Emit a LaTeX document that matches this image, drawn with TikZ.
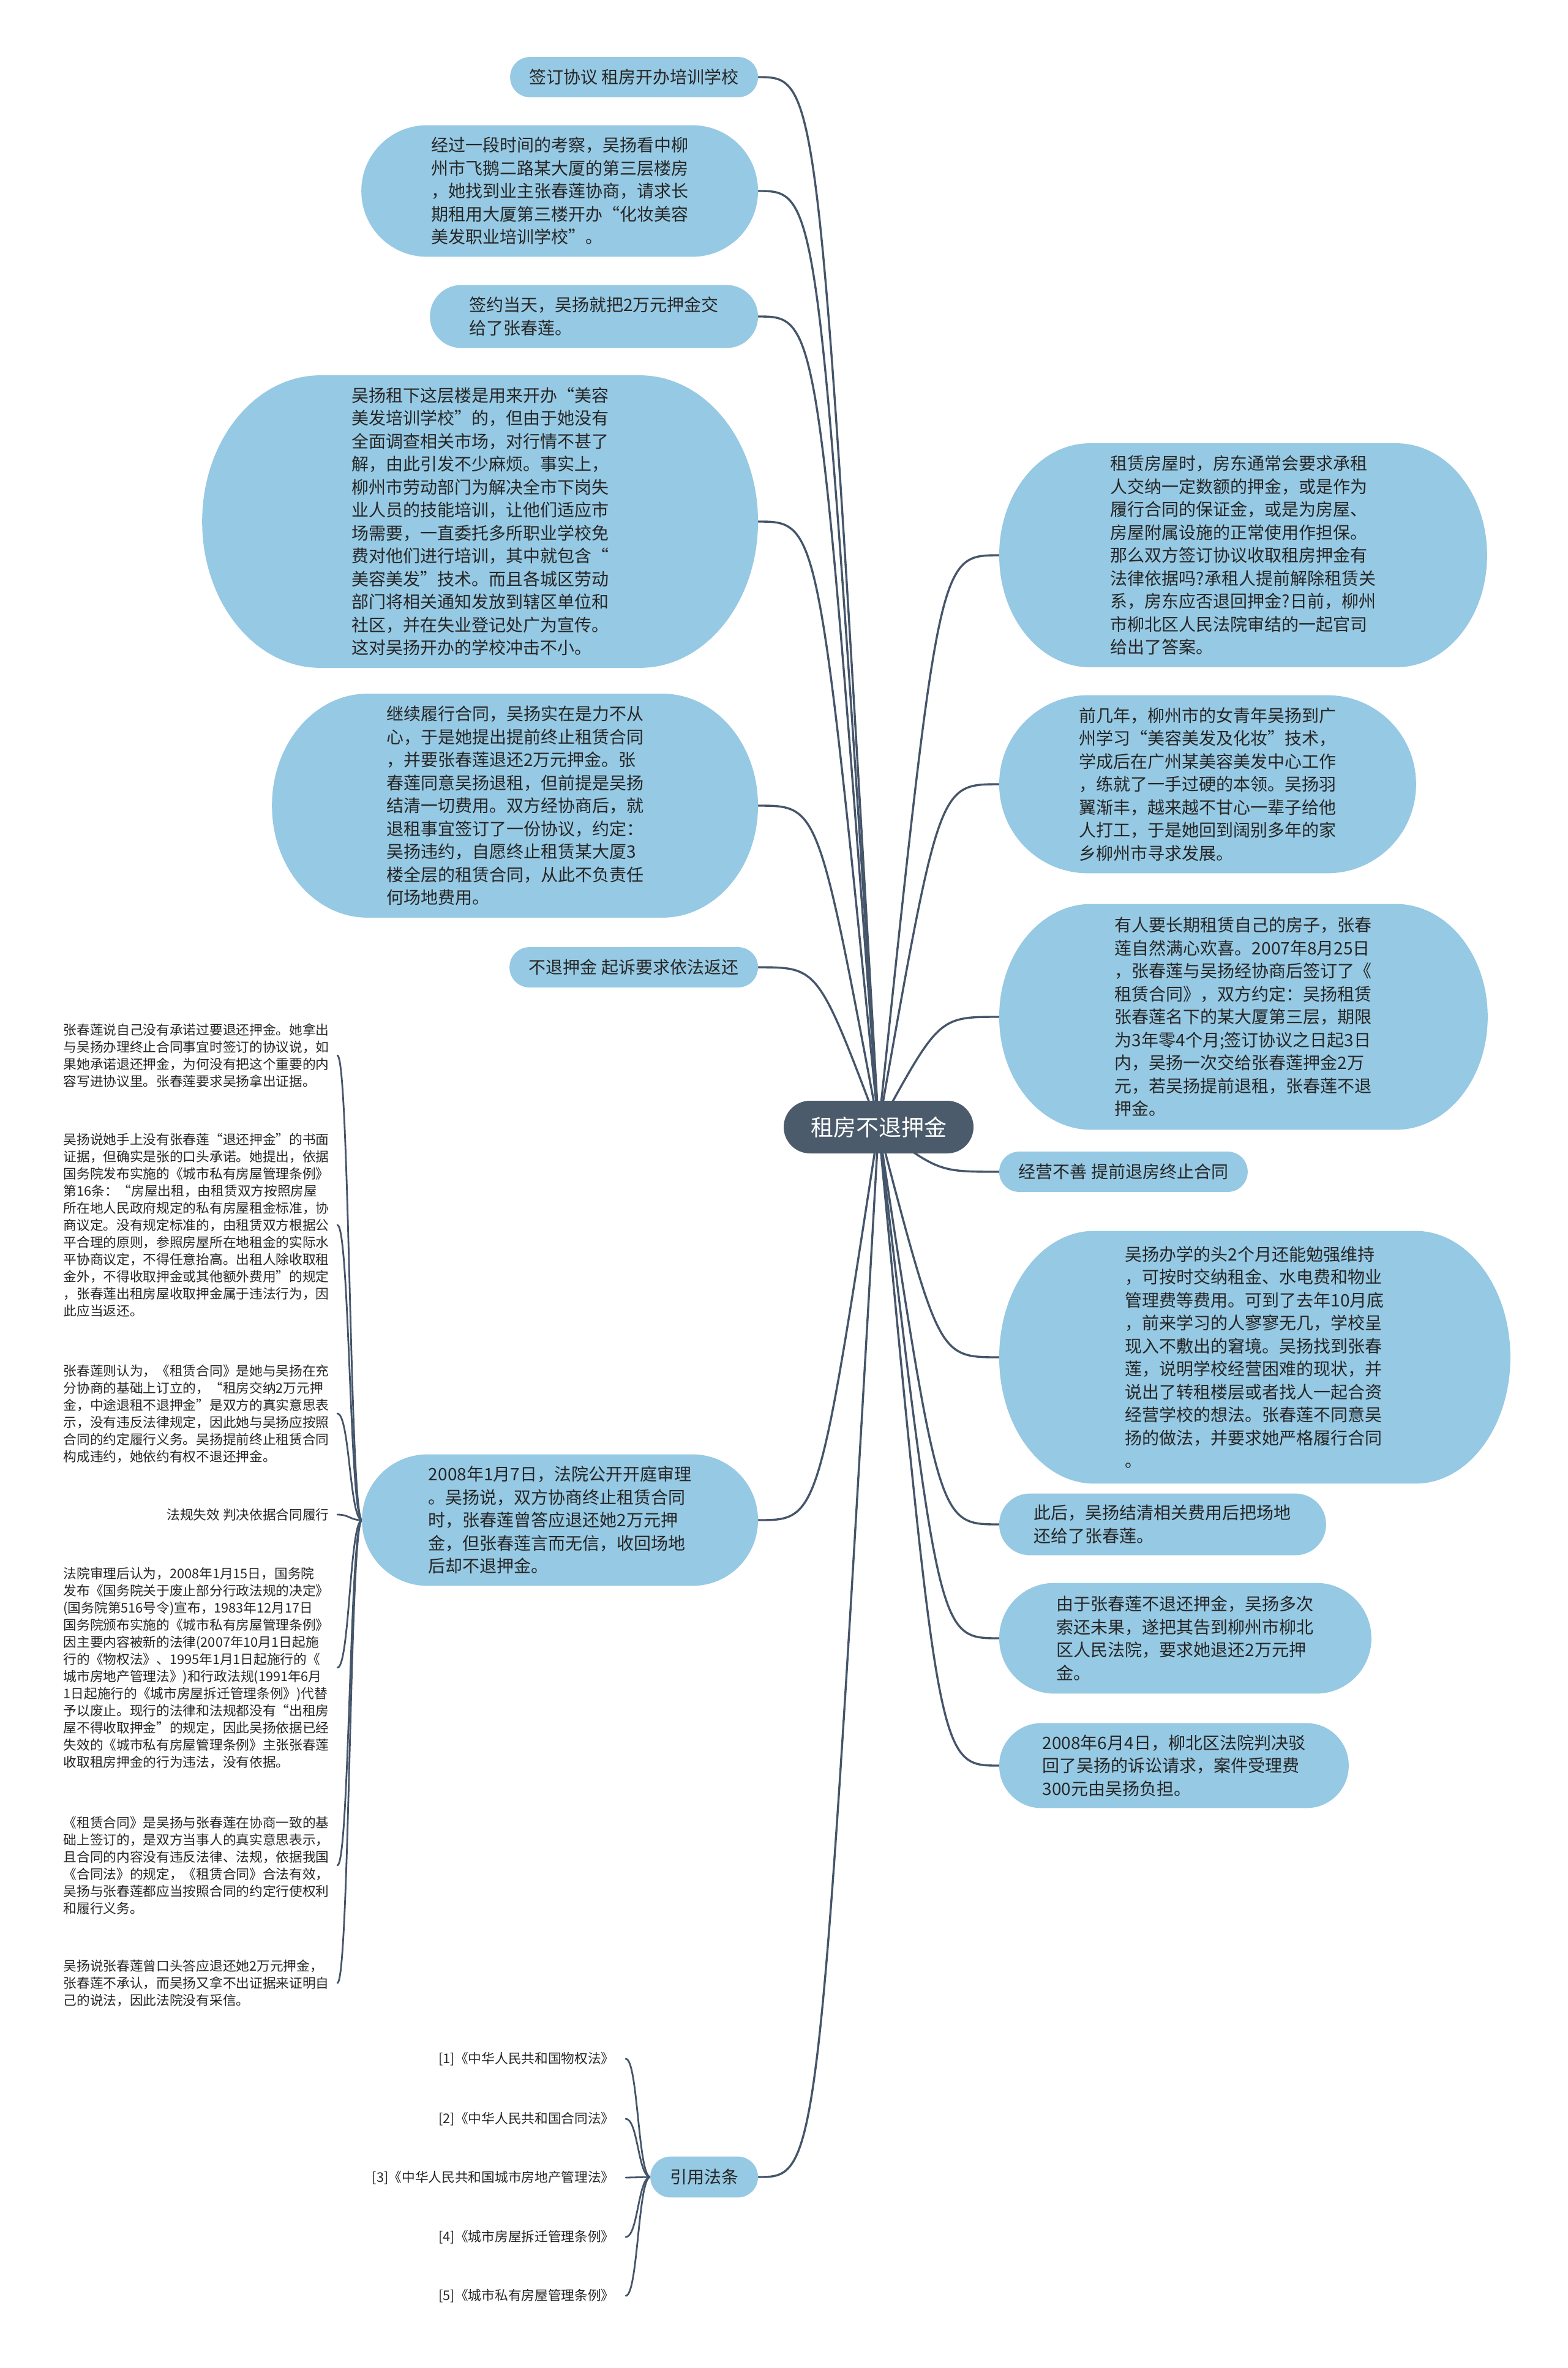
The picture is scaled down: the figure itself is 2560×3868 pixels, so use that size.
\documentclass[tikz,border=0pt]{standalone}
\usepackage{fontspec}
\newfontfamily\cjk{Noto Sans CJK SC}
\usetikzlibrary{calc}
\definecolor{blobc}{HTML}{96C9E3}
\definecolor{ctrc}{HTML}{4B5B6B}
\definecolor{linec}{HTML}{45556A}
\definecolor{txtc}{HTML}{262626}
\pgfdeclarelayer{bglayer}
\pgfdeclarelayer{bloblayer}
\pgfsetlayers{bglayer,bloblayer,main}
\newcommand\blob[3]{%
  \fill[blobc] ($(#1.north west)+(#2,0pt)$) -- ($(#1.north east)+(-#2,0pt)$)
    arc[start angle=90,end angle=0,x radius=#2,y radius=#3]
    -- ($(#1.south east)+(0pt,#3)$)
    arc[start angle=0,end angle=-90,x radius=#2,y radius=#3]
    -- ($(#1.south west)+(#2,0pt)$)
    arc[start angle=270,end angle=180,x radius=#2,y radius=#3]
    -- ($(#1.north west)+(0pt,-#3)$)
    arc[start angle=180,end angle=90,x radius=#2,y radius=#3] -- cycle;}
\newcommand\lconn[1]{\draw[conn] let \p1=(ctr.center), \p2=(#1.east) in (\p2) .. controls ({0.5*\x1+0.5*\x2},\y2) .. (\p1);}
\newcommand\rconn[1]{\draw[conn] let \p1=(ctr.center), \p2=(#1.west) in (\p2) .. controls ({0.5*\x1+0.5*\x2},\y2) .. (\p1);}
\newcommand\bconn[2]{\draw[bconn] let \p1=(#1.west), \p2=(#2.east) in (\p1) .. controls ({0.5*\x1+0.5*\x2},\y1) and ({0.5*\x1+0.5*\x2},\y2) .. (\p2);}
\tikzset{
  bub/.style={inner sep=0pt, align=left, text=txtc, font=\cjk\fontsize{14}{18.75}\selectfont},
  lbub/.style={bub, anchor=east},
  rbub/.style={bub, anchor=west},
  subn/.style={anchor=east, inner xsep=6.5pt, inner ysep=0pt, align=left, text=txtc, font=\cjk\fontsize{10.85}{14}\selectfont},
  refn/.style={anchor=east, inner xsep=9pt, inner ysep=0pt, text=txtc, font=\cjk\fontsize{10.85}{14}\selectfont},
  ctrnode/.style={fill=ctrc, text=white, rounded corners=21.5pt, minimum width=155pt, minimum height=43pt, inner sep=0pt, font=\cjk\fontsize{18.5}{22}\selectfont},
  conn/.style={draw=linec, line width=1.7pt, line cap=round},
  bconn/.style={draw=linec, line width=1.4pt, line cap=round}
}
\begin{document}
\begin{tikzpicture}[x=0.5pt, y=-0.5pt]
\useasboundingbox (0,0) rectangle (2560,3868);
\begin{pgfonlayer}{bglayer}
\fill[white] (0,0) rectangle (2560,3868);
\end{pgfonlayer}

% centre
\node[ctrnode] (ctr) at (1435,1841) {租房不退押金};

% left main nodes
\node[lbub, minimum width=202pt, minimum height=32.5pt] (L1) at (1238,126) {签订协议 租房开办培训学校};
\node[lbub, minimum width=323.5pt, minimum height=107pt] (L2) at (1238,312) {经过一段时间的考察，吴扬看中柳\\州市飞鹅二路某大厦的第三层楼房\\，她找到业主张春莲协商，请求长\\期租用大厦第三楼开办“化妆美容\\美发职业培训学校”。};
\node[lbub, minimum width=267.5pt, minimum height=51pt] (L3) at (1238,517) {签约当天，吴扬就把2万元押金交\\给了张春莲。};
\node[lbub, minimum width=453.5pt, minimum height=238.5pt] (L4) at (1238,852) {吴扬租下这层楼是用来开办“美容\\美发培训学校”的，但由于她没有\\全面调查相关市场，对行情不甚了\\解，由此引发不少麻烦。事实上，\\柳州市劳动部门为解决全市下岗失\\业人员的技能培训，让他们适应市\\场需要，一直委托多所职业学校免\\费对他们进行培训，其中就包含“\\美容美发”技术。而且各城区劳动\\部门将相关通知发放到辖区单位和\\社区，并在失业登记处广为宣传。\\这对吴扬开办的学校冲击不小。};
\node[lbub, minimum width=396.5pt, minimum height=182.5pt] (L5) at (1238,1316) {继续履行合同，吴扬实在是力不从\\心，于是她提出提前终止租赁合同\\，并要张春莲退还2万元押金。张\\春莲同意吴扬退租，但前提是吴扬\\结清一切费用。双方经协商后，就\\退租事宜签订了一份协议，约定：\\吴扬违约，自愿终止租赁某大厦3\\楼全层的租赁合同，从此不负责任\\何场地费用。};
\node[lbub, minimum width=202.5pt, minimum height=32.5pt] (L6) at (1238,1580) {不退押金 起诉要求依法返还};
\node[lbub, minimum width=323pt, minimum height=107pt] (L7) at (1238,2483) {2008年1月7日，法院公开开庭审理\\。吴扬说，双方协商终止租赁合同\\时，张春莲曾答应退还她2万元押\\金，但张春莲言而无信，收回场地\\后却不退押金。};
\node[lbub, minimum width=87.5pt, minimum height=33pt] (L8) at (1238,3556) {引用法条};

% right main nodes
\node[rbub, minimum width=398pt, minimum height=182.5pt] (R1) at (1632,907) {租赁房屋时，房东通常会要求承租\\人交纳一定数额的押金，或是作为\\履行合同的保证金，或是为房屋、\\房屋附属设施的正常使用作担保。\\那么双方签订协议收取租房押金有\\法律依据吗?承租人提前解除租赁关\\系，房东应否退回押金?日前，柳州\\市柳北区人民法院审结的一起官司\\给出了答案。};
\node[rbub, minimum width=340pt, minimum height=145pt] (R2) at (1632,1281) {前几年，柳州市的女青年吴扬到广\\州学习“美容美发及化妆”技术，\\学成后在广州某美容美发中心工作\\，练就了一手过硬的本领。吴扬羽\\翼渐丰，越来越不甘心一辈子给他\\人打工，于是她回到阔别多年的家\\乡柳州市寻求发展。};
\node[rbub, minimum width=398.5pt, minimum height=184pt] (R3) at (1632,1661) {有人要长期租赁自己的房子，张春\\莲自然满心欢喜。2007年8月25日\\，张春莲与吴扬经协商后签订了《\\租赁合同》，双方约定：吴扬租赁\\张春莲名下的某大厦第三层，期限\\为3年零4个月;签订协议之日起3日\\内，吴扬一次交给张春莲押金2万\\元，若吴扬提前退租，张春莲不退\\押金。};
\node[rbub, minimum width=202.5pt, minimum height=32.5pt] (R4) at (1632,1914) {经营不善 提前退房终止合同};
\node[rbub, minimum width=417pt, minimum height=206pt] (R5) at (1632,2217) {吴扬办学的头2个月还能勉强维持\\，可按时交纳租金、水电费和物业\\管理费等费用。可到了去年10月底\\，前来学习的人寥寥无几，学校呈\\现入不敷出的窘境。吴扬找到张春\\莲，说明学校经营困难的现状，并\\说出了转租楼层或者找人一起合资\\经营学校的想法。张春莲不同意吴\\扬的做法，并要求她严格履行合同\\。};
\node[rbub, minimum width=266.5pt, minimum height=50pt] (R6) at (1632,2490) {此后，吴扬结清相关费用后把场地\\还给了张春莲。};
\node[rbub, minimum width=303.5pt, minimum height=90pt] (R7) at (1632,2676) {由于张春莲不退还押金，吴扬多次\\索还未果，遂把其告到柳州市柳北\\区人民法院，要求她退还2万元押\\金。};
\node[rbub, minimum width=285pt, minimum height=69pt] (R8) at (1632,2884) {2008年6月4日，柳北区法院判决驳\\回了吴扬的诉讼请求，案件受理费\\300元由吴扬负担。};

% children of L7
\node[subn] (C1) at (551,1724) {张春莲说自己没有承诺过要退还押金。她拿出\\与吴扬办理终止合同事宜时签订的协议说，如\\果她承诺退还押金，为何没有把这个重要的内\\容写进协议里。张春莲要求吴扬拿出证据。};
\node[subn] (C2) at (551,2001) {吴扬说她手上没有张春莲“退还押金”的书面\\证据，但确实是张的口头承诺。她提出，依据\\国务院发布实施的《城市私有房屋管理条例》\\第16条：“房屋出租，由租赁双方按照房屋\\所在地人民政府规定的私有房屋租金标准，协\\商议定。没有规定标准的，由租赁双方根据公\\平合理的原则，参照房屋所在地租金的实际水\\平协商议定，不得任意抬高。出租人除收取租\\金外，不得收取押金或其他额外费用”的规定\\，张春莲出租房屋收取押金属于违法行为，因\\此应当返还。};
\node[subn] (C3) at (551,2309) {张春莲则认为，《租赁合同》是她与吴扬在充\\分协商的基础上订立的，“租房交纳2万元押\\金，中途退租不退押金”是双方的真实意思表\\示，没有违反法律规定，因此她与吴扬应按照\\合同的约定履行义务。吴扬提前终止租赁合同\\构成违约，她依约有权不退还押金。};
\node[subn] (C4) at (551,2474) {法规失效 判决依据合同履行};
\node[subn] (C5) at (551,2724) {法院审理后认为，2008年1月15日，国务院\\发布《国务院关于废止部分行政法规的决定》\\(国务院第516号令)宣布，1983年12月17日\\国务院颁布实施的《城市私有房屋管理条例》\\因主要内容被新的法律(2007年10月1日起施\\行的《物权法》、1995年1月1日起施行的《\\城市房地产管理法》)和行政法规(1991年6月\\1日起施行的《城市房屋拆迁管理条例》)代替\\予以废止。现行的法律和法规都没有“出租房\\屋不得收取押金”的规定，因此吴扬依据已经\\失效的《城市私有房屋管理条例》主张张春莲\\收取租房押金的行为违法，没有依据。};
\node[subn] (C6) at (551,3047) {《租赁合同》是吴扬与张春莲在协商一致的基\\础上签订的，是双方当事人的真实意思表示，\\且合同的内容没有违反法律、法规，依据我国\\《合同法》的规定，《租赁合同》合法有效，\\吴扬与张春莲都应当按照合同的约定行使权利\\和履行义务。};
\node[subn] (C7) at (551,3239) {吴扬说张春莲曾口头答应退还她2万元押金，\\张春莲不承认，而吴扬又拿不出证据来证明自\\己的说法，因此法院没有采信。};

% references
\node[refn] (F1) at (1022,3363) {[1]《中华人民共和国物权法》};
\node[refn] (F2) at (1022,3461) {[2]《中华人民共和国合同法》};
\node[refn] (F3) at (1022,3557) {[3]《中华人民共和国城市房地产管理法》};
\node[refn] (F4) at (1022,3654) {[4]《城市房屋拆迁管理条例》};
\node[refn] (F5) at (1022,3750) {[5]《城市私有房屋管理条例》};

% bubbles
\begin{pgfonlayer}{bloblayer}
\blob{L1}{16.25pt}{16.25pt}
\blob{L2}{53.5pt}{53.5pt}
\blob{L3}{25.5pt}{25.5pt}
\blob{L4}{96.5pt}{119.25pt}
\blob{L5}{78pt}{91.25pt}
\blob{L6}{16.25pt}{16.25pt}
\blob{L7}{53.5pt}{53.5pt}
\blob{L8}{16.5pt}{16.5pt}
\blob{R1}{74pt}{91.25pt}
\blob{R2}{72.5pt}{72.5pt}
\blob{R3}{75pt}{92pt}
\blob{R4}{16.25pt}{16.25pt}
\blob{R5}{77.5pt}{103pt}
\blob{R6}{25pt}{25pt}
\blob{R7}{45pt}{45pt}
\blob{R8}{34.5pt}{34.5pt}
\end{pgfonlayer}

% connectors
\begin{pgfonlayer}{bglayer}
\lconn{L1}\lconn{L2}\lconn{L3}\lconn{L4}\lconn{L5}\lconn{L6}\lconn{L7}\lconn{L8}
\rconn{R1}\rconn{R2}\rconn{R3}\rconn{R4}\rconn{R5}\rconn{R6}\rconn{R7}\rconn{R8}
\bconn{L7}{C1}\bconn{L7}{C2}\bconn{L7}{C3}\bconn{L7}{C4}\bconn{L7}{C5}\bconn{L7}{C6}\bconn{L7}{C7}
\bconn{L8}{F1}\bconn{L8}{F2}\bconn{L8}{F3}\bconn{L8}{F4}\bconn{L8}{F5}
\end{pgfonlayer}
\end{tikzpicture}
\end{document}
